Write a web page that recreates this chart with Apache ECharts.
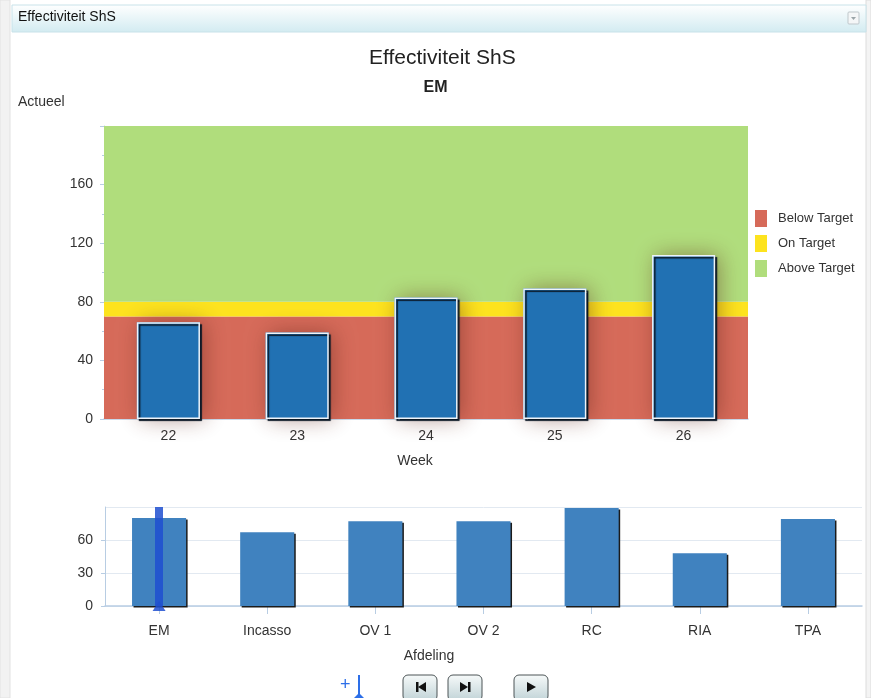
<!DOCTYPE html>
<html>
<head>
<meta charset="utf-8">
<script src="https://cdn.jsdelivr.net/npm/echarts@6/dist/echarts.min.js"></script>
<style>
html,body{margin:0;padding:0;background:#fff;}
#c{width:871px;height:698px;}
</style>
</head>
<body>
<div id="c"></div>
<script>
// ---- data ----
const weeks = ['22', '23', '24', '25', '26'];
const actueel = [66, 59, 83, 89, 112];
const bandNames = ['Below Target', 'On Target', 'Above Target'];
const bandFrom = [0, 70, 80];
const bandTo = [70, 80, 200];
const afdelingen = ['EM', 'Incasso', 'OV 1', 'OV 2', 'RC', 'RIA', 'TPA'];
const afdelingValues = [80, 67, 77, 77, 89, 48, 79];
const selectedAfdeling = 'EM';
const topAxis = { min: 0, max: 200, interval: 40 };
const bottomAxis = { min: 0, max: 90, interval: 30 };

const bandColors = ['#d66a59', '#fde31e', '#b0dd7c'];
const FONT = 'Liberation Sans, Arial, sans-serif';
const txt = '#333';
const axisBlue = '#b8cde3';

const chart = echarts.init(document.getElementById('c'), null, { renderer: 'canvas' });

const bandSeries = bandNames.map((n, i) => ({
  name: n,
  type: 'line',
  xAxisIndex: 0, yAxisIndex: 0,
  data: [],
  z: 1,
  itemStyle: { color: bandColors[i] },
  markArea: {
    silent: true,
    itemStyle: { color: bandColors[i], opacity: 1 },
    data: [[{ yAxis: bandFrom[i] }, { yAxis: bandTo[i] }]]
  }
}));

function button(x, y, icon) {
  return {
    type: 'group', x: x, y: y, children: [
      { type: 'rect', shape: { x: 0, y: 0, width: 34, height: 26, r: 5 },
        style: { fill: new echarts.graphic.LinearGradient(0, 0, 0, 1, [
          { offset: 0, color: '#f7fafa' }, { offset: 1, color: '#bfd2d6' }]),
          stroke: '#4d5557', lineWidth: 1 } }
    ].concat(icon)
  };
}

const option = {
  animation: false,
  textStyle: { fontFamily: FONT },
  title: [
    { text: 'Effectiviteit ShS', left: 364, top: 43,
      textStyle: { fontSize: 21, fontWeight: 'normal', color: '#222', fontFamily: FONT } },
    { text: 'EM', left: 'center', top: 75,
      textStyle: { fontSize: 16, fontWeight: 'bold', color: '#222', fontFamily: FONT } }
  ],
  legend: {
    data: bandNames,
    orient: 'vertical',
    left: 750, top: 205,
    icon: 'rect',
    itemWidth: 12, itemHeight: 17, itemGap: 8,
    textStyle: { fontSize: 13, color: txt, fontFamily: FONT, padding: [0, 0, 0, 6] },
    selectedMode: false
  },
  grid: [
    { left: 104, right: 123, top: 126, bottom: 279 },
    { left: 105, right: 9, top: 507, bottom: 92 }
  ],
  xAxis: [
    { type: 'category', gridIndex: 0, data: weeks,
      name: 'Week', nameLocation: 'middle', nameGap: 35,
      nameTextStyle: { fontSize: 14, color: txt, padding: [0, 22, 0, 0] },
      axisLine: { lineStyle: { color: axisBlue, width: 1.5 } },
      axisTick: { show: false },
      axisLabel: { fontSize: 14, color: txt, margin: 10 } },
    { type: 'category', gridIndex: 1, data: afdelingen,
      name: 'Afdeling', nameLocation: 'middle', nameGap: 43,
      nameTextStyle: { fontSize: 14, color: txt, padding: [0, 109, 0, 0] },
      axisLine: { lineStyle: { color: axisBlue, width: 1.5 } },
      axisTick: { show: true, alignWithLabel: true, length: 8, lineStyle: { color: axisBlue } },
      axisLabel: { fontSize: 14, color: txt, margin: 18 } }
  ],
  yAxis: [
    { type: 'value', gridIndex: 0, min: topAxis.min, max: topAxis.max, interval: topAxis.interval,
      axisLine: { show: true, lineStyle: { color: axisBlue } },
      axisTick: { show: true, length: 4, lineStyle: { color: axisBlue } },
      minorTick: { show: true, splitNumber: 2, length: 2, lineStyle: { color: axisBlue } },
      splitLine: { show: false },
      axisLabel: { fontSize: 14, color: txt, margin: 11, showMaxLabel: false } },
    { type: 'value', gridIndex: 1, min: bottomAxis.min, max: bottomAxis.max, interval: bottomAxis.interval,
      axisLine: { show: true, lineStyle: { color: axisBlue } },
      axisTick: { show: true, length: 4, lineStyle: { color: axisBlue } },
      splitLine: { show: true, lineStyle: { color: '#e2e9f1' } },
      axisLabel: { fontSize: 14, color: txt, margin: 12, showMaxLabel: false } }
  ],
  series: bandSeries.concat([
    { name: 'shadow', type: 'bar', xAxisIndex: 0, yAxisIndex: 0, data: actueel,
      barWidth: '49%', z: 3, silent: true,
      itemStyle: { color: '#2171b3', shadowBlur: 22, shadowOffsetX: 4, shadowOffsetY: 0,
        shadowColor: 'rgba(90,30,20,0.45)' } },
    { name: 'Actueel', type: 'bar', xAxisIndex: 0, yAxisIndex: 0, data: actueel,
      barWidth: '49%', barGap: '-100%', z: 4,
      itemStyle: { color: '#2171b3', borderColor: '#eef4fa', borderWidth: 1.5,
        shadowBlur: 1, shadowOffsetX: 2, shadowOffsetY: 2, shadowColor: '#0b1826' } },
    { name: 'Afdeling', type: 'bar', xAxisIndex: 1, yAxisIndex: 1, data: afdelingValues,
      barWidth: '50%', z: 3,
      itemStyle: { color: '#4082bf', shadowBlur: 0, shadowOffsetX: 1.5, shadowOffsetY: 1.5,
        shadowColor: '#1b1b1b' },
      markLine: {
        silent: true, animation: false,
        symbol: ['triangle', 'none'], symbolSize: [13, 10], symbolRotate: 0,
        symbolOffset: [0, -4],
        label: { show: false },
        lineStyle: { color: '#1f4fd0', width: 8, type: 'solid', opacity: 0.85 },
        itemStyle: { color: '#1a3fa8' },
        data: [{ xAxis: selectedAfdeling }]
      } }
  ]),
  graphic: [
    // page frame
    { type: 'rect', z: -10, shape: { x: 0, y: 0, width: 10, height: 698 },
      style: { fill: '#f2f2f2', stroke: '#e2e2e2' } },
    { type: 'rect', z: -10, shape: { x: 866, y: 0, width: 5, height: 698 },
      style: { fill: '#f4f4f4', stroke: '#dcdcdc' } },
    { type: 'rect', z: -9, shape: { x: 12, y: 5, width: 854, height: 27 },
      style: { fill: new echarts.graphic.LinearGradient(0, 0, 0, 1, [
        { offset: 0, color: '#ffffff' }, { offset: 1, color: '#d2ebf1' }]),
        stroke: '#c8e2e9', lineWidth: 1 } },
    { type: 'text', left: 18, top: 10, z: 5,
      style: { text: 'Effectiviteit ShS', fill: '#111', font: '14px ' + FONT } },
    { type: 'rect', z: 5, shape: { x: 848, y: 12, width: 11, height: 12, r: 1 },
      style: { fill: '#f4f6f7', stroke: '#bfc7cb' } },
    { type: 'polygon', z: 6, shape: { points: [[851, 17], [856, 17], [853.5, 20]] },
      style: { fill: '#9aa4a8' } },
    { type: 'text', left: 18, top: 95, z: 5,
      style: { text: 'Actueel', fill: txt, font: '14px ' + FONT } },
    // controls
    { type: 'text', left: 340, top: 676, z: 5,
      style: { text: '+', fill: '#2d6fe8', font: '18px ' + FONT } },
    { type: 'line', z: 5, shape: { x1: 359, y1: 675, x2: 359, y2: 697 },
      style: { stroke: '#2d6fe8', lineWidth: 2 } },
    { type: 'polygon', z: 5, shape: { points: [[354, 698], [364, 698], [359, 693]] },
      style: { fill: '#2d6fe8' } },
    button(403, 675, [
      { type: 'rect', shape: { x: 13, y: 7, width: 2.5, height: 10 }, style: { fill: '#111' } },
      { type: 'polygon', shape: { points: [[23, 7], [23, 17], [15, 12]] }, style: { fill: '#111' } }
    ]),
    button(448, 675, [
      { type: 'polygon', shape: { points: [[12, 7], [12, 17], [20, 12]] }, style: { fill: '#111' } },
      { type: 'rect', shape: { x: 20, y: 7, width: 2.5, height: 10 }, style: { fill: '#111' } }
    ]),
    button(514, 675, [
      { type: 'polygon', shape: { points: [[13, 7], [13, 17], [22, 12]] }, style: { fill: '#111' } }
    ])
  ]
};
chart.setOption(option);
</script>
</body>
</html>
